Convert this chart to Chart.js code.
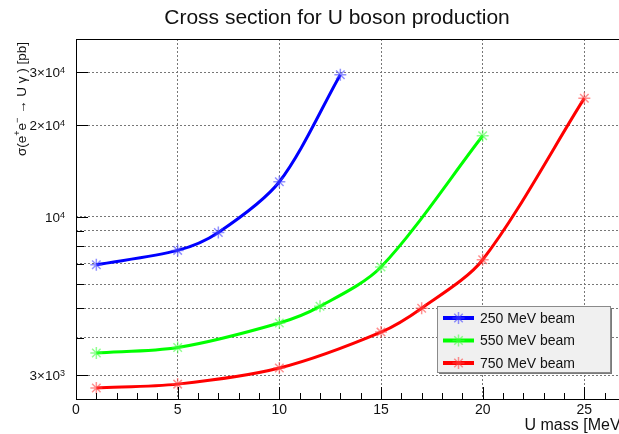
<!DOCTYPE html>
<html>
<head>
<meta charset="utf-8">
<script src="https://cdn.jsdelivr.net/npm/chart.js@4.4.1/dist/chart.umd.min.js"></script>
<style>
  html, body { margin: 0; padding: 0; background: #fff; overflow: hidden; }
  #wrap { width: 619px; height: 434px; overflow: hidden; }
</style>
</head>
<body>
<div id="wrap"><canvas id="xsec" width="640" height="434"></canvas></div>
<script>
// U mass [MeV] of each computed point
const massBeam250 = [1, 5, 7, 10, 13];
const massBeam550 = [1, 5, 10, 12, 15, 20];
const massBeam750 = [1, 5, 10, 15, 17, 20, 25];

// cross section [pb]
const xsecBeam250 = [6950, 7750, 8880, 13050, 29400];
const xsecBeam550 = [3560, 3710, 4470, 5070, 6830, 18500];
const xsecBeam750 = [2730, 2810, 3175, 4170, 5000, 7220, 24600];

const beamLabels = ['250 MeV beam', '550 MeV beam', '750 MeV beam'];
const beamColors = ['#0000ff', '#00ff00', '#ff0000'];
const markerColors = ['rgba(70,70,255,0.6)', 'rgba(70,255,70,0.6)', 'rgba(255,70,70,0.6)'];

const xTickValues = [0, 5, 10, 15, 20, 25];
const yGridValues = [3000, 4000, 5000, 6000, 7000, 8000, 9000, 10000, 20000, 30000];
const yLabelValues = [3000, 10000, 20000, 30000];
const yLabelMantissa = ['3×10', '10', '2×10', '3×10'];
const yLabelExponent = ['3', '4', '4', '4'];

const FONT = "'Liberation Sans', Arial, sans-serif";

function toPoints(xs, ys) {
  return xs.map((x, i) => ({ x: x, y: ys[i] }));
}

function makeDataset(i, xs, ys) {
  return {
    label: beamLabels[i],
    data: toPoints(xs, ys),
    borderColor: beamColors[i],
    borderWidth: 3,
    tension: 0.3,
    pointStyle: 'star',
    pointRadius: 6,
    pointBorderWidth: 1.5,
    pointBorderColor: markerColors[i],
    pointBackgroundColor: markerColors[i],
    fill: false
  };
}

// frame, tick marks, titles, y labels and the legend box
const rootDecor = {
  id: 'rootDecor',
  afterDraw(chart) {
    const ctx = chart.ctx;
    const a = chart.chartArea;
    const x = chart.scales.x;
    const y = chart.scales.y;
    ctx.save();

    ctx.strokeStyle = '#000';
    ctx.lineWidth = 1;
    ctx.strokeRect(a.left + 0.5, a.top + 0.5, a.right - a.left, a.bottom - a.top);

    ctx.beginPath();
    for (let v = 0; v <= x.max; v++) {
      const px = Math.round(x.getPixelForValue(v)) + 0.5;
      const len = v % 5 === 0 ? 12 : 6;
      ctx.moveTo(px, a.bottom);
      ctx.lineTo(px, a.bottom - len);
    }
    yGridValues.forEach(v => {
      const py = Math.round(y.getPixelForValue(v)) + 0.5;
      const len = yLabelValues.includes(v) ? 12 : 8;
      ctx.moveTo(a.left, py);
      ctx.lineTo(a.left + len, py);
    });
    ctx.stroke();

    // y labels with raised exponent
    ctx.fillStyle = '#111';
    ctx.textBaseline = 'alphabetic';
    ctx.textAlign = 'left';
    yLabelValues.forEach((v, i) => {
      const py = y.getPixelForValue(v);
      ctx.font = '9px ' + FONT;
      const we = ctx.measureText(yLabelExponent[i]).width;
      ctx.font = '13.5px ' + FONT;
      const wm = ctx.measureText(yLabelMantissa[i]).width;
      const right = 65;
      ctx.fillText(yLabelMantissa[i], right - we - wm, py + 5);
      ctx.font = '9px ' + FONT;
      ctx.fillText(yLabelExponent[i], right - we, py + 1);
    });

    // title
    ctx.font = '21px ' + FONT;
    ctx.textAlign = 'center';
    ctx.fillText('Cross section for U boson production', 337, 24);

    // x axis title
    ctx.font = '16px ' + FONT;
    ctx.textAlign = 'right';
    ctx.fillText('U mass [MeV]', a.right, 430);

    // y axis title, rotated, ending at the top of the frame
    const parts = [
      { t: 'σ(e', sup: false }, { t: '+', sup: true }, { t: 'e', sup: false },
      { t: '−', sup: true }, { t: ' → U γ ) [pb]', sup: false }
    ];
    let total = 0;
    parts.forEach(p => {
      ctx.font = (p.sup ? '9px ' : '13.5px ') + FONT;
      p.w = ctx.measureText(p.t).width;
      total += p.w;
    });
    ctx.save();
    ctx.translate(26, 42 + total);
    ctx.rotate(-Math.PI / 2);
    ctx.textAlign = 'left';
    let cx = 0;
    parts.forEach(p => {
      ctx.font = (p.sup ? '9px ' : '13.5px ') + FONT;
      ctx.fillText(p.t, cx, p.sup ? -6 : 0);
      cx += p.w;
    });
    ctx.restore();

    // legend
    const lx = 437, ly = 306, lw = 173, lh = 66;
    ctx.fillStyle = '#7a7a7a';
    ctx.fillRect(lx + 2, ly + 2, lw, lh);
    ctx.fillStyle = '#f0f0f0';
    ctx.fillRect(lx, ly, lw, lh);
    ctx.strokeStyle = '#8a8a8a';
    ctx.strokeRect(lx + 0.5, ly + 0.5, lw, lh);
    ctx.textAlign = 'left';
    ctx.textBaseline = 'middle';
    ctx.font = '14px ' + FONT;
    chart.data.datasets.forEach((ds, i) => {
      const ey = 318 + i * 22.5;
      ctx.strokeStyle = ds.borderColor;
      ctx.lineWidth = 4;
      ctx.beginPath();
      ctx.moveTo(443, ey);
      ctx.lineTo(474, ey);
      ctx.stroke();
      ctx.strokeStyle = markerColors[i];
      ctx.lineWidth = 1.5;
      Chart.helpers.drawPoint(ctx, { pointStyle: 'star', radius: 6, rotation: 0, borderWidth: 1.5 }, 458.5, ey);
      ctx.fillStyle = '#111';
      ctx.fillText(ds.label, 480, ey + 1);
    });

    ctx.restore();
  }
};

new Chart(document.getElementById('xsec'), {
  type: 'line',
  data: {
    datasets: [
      makeDataset(0, massBeam250, xsecBeam250),
      makeDataset(1, massBeam550, xsecBeam550),
      makeDataset(2, massBeam750, xsecBeam750)
    ]
  },
  options: {
    responsive: false,
    animation: false,
    layout: { padding: { top: 39, right: 15, left: 0, bottom: 0 } },
    plugins: {
      legend: { display: false },
      tooltip: { enabled: false }
    },
    scales: {
      x: {
        type: 'linear',
        min: 0,
        max: 27,
        afterBuildTicks: scale => { scale.ticks = xTickValues.map(v => ({ value: v })); },
        afterFit: scale => { scale.height = 35; },
        grid: {
          drawTicks: false,
          color: c => (c.tick && c.tick.value === 0) ? 'rgba(0,0,0,0)' : '#777',
          lineWidth: 1
        },
        border: { display: false, dash: [2, 2] },
        ticks: {
          padding: 3,
          color: '#111',
          font: { family: FONT, size: 14 },
          callback: v => String(v),
          maxRotation: 0
        }
      },
      y: {
        type: 'logarithmic',
        min: 2510,
        max: 38540,
        afterBuildTicks: scale => { scale.ticks = yGridValues.map(v => ({ value: v })); },
        afterFit: scale => { scale.width = 76; },
        grid: {
          drawTicks: false,
          color: '#777',
          lineWidth: 1
        },
        border: { display: false, dash: [2, 2] },
        ticks: { display: false }
      }
    }
  },
  plugins: [rootDecor]
});
</script>
</body>
</html>
